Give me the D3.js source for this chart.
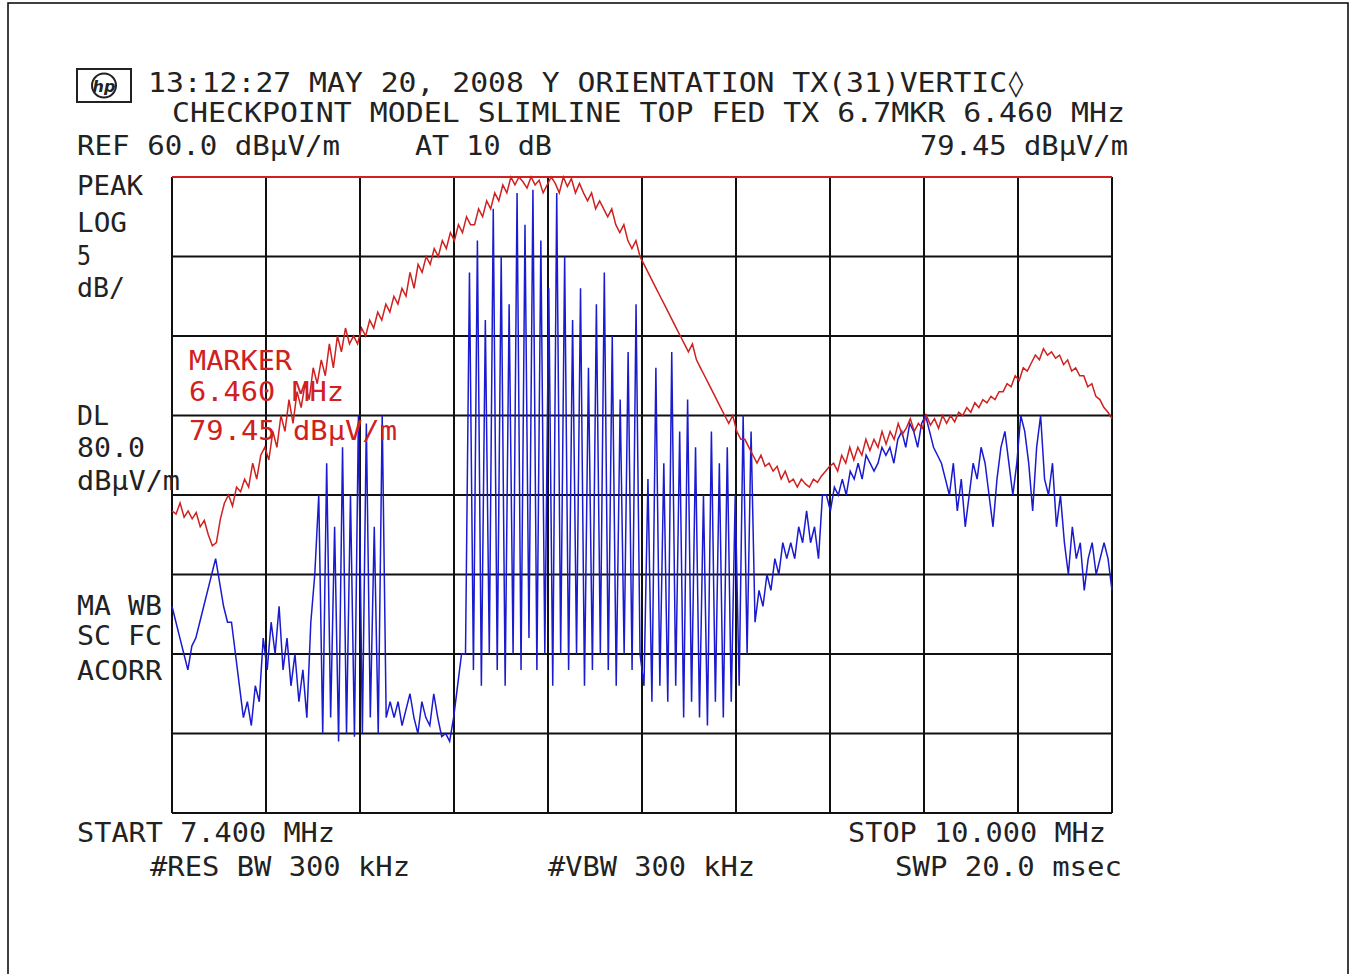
<!DOCTYPE html>
<html><head><meta charset="utf-8">
<script src="https://cdn.jsdelivr.net/npm/d3@7"></script>
<style>body{margin:0;background:#fff}</style>
</head><body><svg id="main" width="1351" height="974"></svg>
<script>
// sweep settings
var startMHz = 7.4, stopMHz = 10.0, refDb = 80, dbPerDiv = 5, displayLine = 80
var xDivs = 10, yDivs = 8

// red (peak hold) trace, dBuV/m
var redTrace = [59,58.8,59.5,58.6,59,58.5,58.9,58,58.4,57.5,56.8,57,58.5,59.5,60,59.3,60.5,
60.2,61,60.5,62,61,62.5,63,62.2,64,63,65,64,66,64.5,66.5,65.5,67,66,68,67,68.5,67.5,69.5,68,70,69,70.5,69.5,
70,69.5,70.5,70,71,70.5,71.5,71,72,71.5,72.5,72,73,72.5,74,73,74.5,74,75,74.5,75.5,75,76,75.5,76.5,76,77,76.5,77.5,77,
77,78,77.5,78.5,78,79,78.5,79.5,79,80,79.5,80,79.7,79.3,80,79.5,79.8,79,79.5,80,79.6,79,80,79.4,79.9,79,79.6,79,78.5,79,78,78.5,
78,77.5,78,77,76.5,77,76,75.5,76,75,74.5,74,73.5,73,72.5,72,71.5,71,70.5,70,69.5,69,69.5,68.5,68,67.5,67,66.5,66,65.5,65,64.5,65,64,63.5,
63.5,63,62.5,62,62.5,61.8,62,61.5,61.8,61,61.5,60.8,61,60.5,61,60.7,60.5,61,60.8,61.2,61.5,61.8,
62,61.5,62.5,62,63,62.2,63,62.5,63.5,62.8,63.5,63,64,63.2,64,63.5,64.5,63.8,64.2,64.8,64,64.5,64.2,65,64.4,64.8,64.2,65,64.5,65,64.6,65.2,65,65.5,65.2,65.8,65.5,66,65.8,66.2,66,66.5,
66.5,67,66.8,67.5,67.2,68,67.8,68.3,68.8,68.5,69.2,68.8,69,68.6,68.8,68.2,68.5,67.8,68,67.5,67.5,66.8,67,66.2,66,65.5,65.2,64.8]

// blue (current sweep) trace, dBuV/m
var blueTrace = [53,52,51,50,49,50.5,51,52,53,54,55,56,54.5,53,52,
52,50,48,46,47,45.5,48,47,51,49,52,50,53,49,51,48,50,47,49,46,52,55,60,
45,62,46,58,44.5,63,45,60,44.8,65,45,64.5,46,58,45,65,46,47,
46,47,45.5,46.5,47.5,46,45,47,46,45.5,47.5,46,44.8,45,44.5,46,48,50,
50,74,49,76,48,71,50,78,49,75,48,72,50,79,49,77,51,79.2,49,76,50,73,48,79,50,75,49,71,50,73,48,68,49,72,50,74,49,70,48,66,50,69,49,72,50,
48,61,47,68,48,62,47,69,48,64,46,66,47,63,46,60,45.5,64,47,62,46,63,47,60,48,65,50,64,
52,54,53,55,54,56,55,57,56,57,56,58,57,59,57,58,56,60,
60,59,60.5,60,61,60,61.5,61,62,61,62.5,62,61.5,62,63,62.5,63,62,63.5,64,63,64.5,64,63,64.5,65,64,63,62.5,62,
61,60,62,59,61,58,60,62,61,63,62,60,58,61,63,64,62,60,62,65,64,62,59,63,65,61,60,62,58,60,57,55,58,56,57,54,56,57,55,56,57,56,54]

// screen annotations: text, x, y, width, colour
var labels = [
  ["13:12:27 MAY 20, 2008  Y ORIENTATION TX(31)VERTIC\u25CA", 148, 92, 877, "#222"],
  ["CHECKPOINT  MODEL SLIMLINE TOP FED  TX 6.7MKR 6.460 MHz", 172, 122, 953, "#222"],
  ["REF 60.0 dB\u00B5V/m", 77, 155, 263, "#222"],
  ["AT 10 dB", 415, 155, 137, "#222"],
  ["79.45 dB\u00B5V/m", 920, 155, 208, "#222"],
  ["PEAK", 77, 195, 66, "#222"],
  ["LOG", 77, 232, 50, "#222"],
  ["5", 77, 265, 14, "#222"],
  ["dB/", 77, 297, 48, "#222"],
  ["MARKER", 189, 370, 103, "#d02020"],
  ["6.460 MHz", 189, 401, 155, "#d02020"],
  ["79.45 dB\u00B5V/m", 189, 440, 208, "#d02020"],
  ["DL", 77, 425, 32, "#222"],
  ["80.0", 77, 457, 68, "#222"],
  ["dB\u00B5V/m", 77, 490, 103, "#222"],
  ["MA WB", 77, 615, 85, "#222"],
  ["SC FC", 77, 645, 85, "#222"],
  ["ACORR", 77, 680, 85, "#222"],
  ["START 7.400 MHz", 77, 842, 258, "#222"],
  ["STOP 10.000 MHz", 848, 842, 258, "#222"],
  ["#RES BW 300 kHz", 150, 876, 260, "#222"],
  ["#VBW 300 kHz", 548, 876, 207, "#222"],
  ["SWP 20.0 msec", 895, 876, 227, "#222"]
]

var svg = d3.select("#main")
var pL = 172, pR = 1112, pT = 177, pB = 813

svg.append("rect").attr("x", 8).attr("y", 3).attr("width", 1340).attr("height", 975)
  .attr("fill", "none").attr("stroke", "#000").attr("stroke-width", 1.5)

var x = d3.scaleLinear().domain([startMHz, stopMHz]).range([pL, pR])
var y = d3.scaleLinear().domain([refDb - dbPerDiv * yDivs, refDb]).range([pB, pT])

// graticule
var g = svg.append("g")
g.selectAll(".vx").data(d3.range(xDivs + 1)).enter().append("line")
  .attr("x1", function(d) { return x(startMHz + d * (stopMHz - startMHz) / xDivs) })
  .attr("x2", function(d) { return x(startMHz + d * (stopMHz - startMHz) / xDivs) })
  .attr("y1", pT).attr("y2", pB).attr("stroke", "#111").attr("stroke-width", 2)
g.selectAll(".hy").data(d3.range(yDivs + 1)).enter().append("line")
  .attr("y1", function(d) { return y(refDb - d * dbPerDiv) })
  .attr("y2", function(d) { return y(refDb - d * dbPerDiv) })
  .attr("x1", pL).attr("x2", pR).attr("stroke", "#111").attr("stroke-width", 2)

// display line
svg.append("line").attr("x1", pL).attr("x2", pR)
  .attr("y1", y(displayLine)).attr("y2", y(displayLine)).attr("stroke", "#d02020").attr("stroke-width", 2)

function trace(vals, color) {
  var fx = d3.scaleLinear().domain([0, vals.length - 1]).range([startMHz, stopMHz])
  var line = d3.line().x(function(d, i) { return x(fx(i)) }).y(function(d) { return y(d) })
  svg.append("path").attr("d", line(vals)).attr("fill", "none")
    .attr("stroke", color).attr("stroke-width", 1.5)
}
trace(blueTrace, "#1a1ad0")
trace(redTrace, "#d02020")

// HP logo box
svg.append("rect").attr("x", 77).attr("y", 69).attr("width", 54).attr("height", 33)
  .attr("fill", "none").attr("stroke", "#222").attr("stroke-width", 2)
svg.append("circle").attr("cx", 104).attr("cy", 85.5).attr("r", 12)
  .attr("fill", "none").attr("stroke", "#222").attr("stroke-width", 2)
svg.append("text").attr("x", 104).attr("y", 92).attr("text-anchor", "middle")
  .style("font", "italic bold 16px 'DejaVu Sans'").attr("fill", "#222").text("hp")

svg.selectAll(".lbl").data(labels).enter().append("text")
  .attr("x", function(d) { return d[1] }).attr("y", function(d) { return d[2] })
  .attr("textLength", function(d) { return d[3] }).attr("lengthAdjust", "spacingAndGlyphs")
  .attr("fill", function(d) { return d[4] })
  .style("font", "26px 'DejaVu Sans Mono'")
  .text(function(d) { return d[0] })
</script>
</body></html>
